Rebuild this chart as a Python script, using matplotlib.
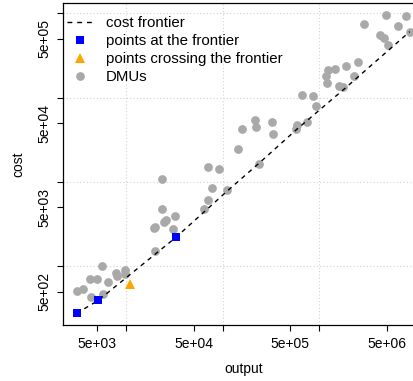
import numpy as np
import matplotlib
matplotlib.use('Agg')
import matplotlib.pyplot as plt
from matplotlib.ticker import NullLocator
from matplotlib.lines import Line2D

plt.rcParams['font.family'] = ['Liberation Sans', 'DejaVu Sans']

# DMUs (output, cost)
dmu_output = [3090, 3615, 4223, 4986, 5578, 6435, 4313, 5713, 7916, 8030,
              9835, 9835, 19720, 19580, 19950, 23410, 24730, 25630, 30860, 32360,
              63380, 70530, 23580, 69700, 92330, 77230, 112200, 142450, 157800, 218700,
              219800, 320200, 330300, 574000, 592200, 740500, 667100, 850500, 924500, 1160000,
              1216000, 1207000, 1460000, 1610000, 1772000, 1880000, 2305000, 2529000, 2884000, 4281000,
              4670000, 5163000, 4898000, 6522000, 7852000, 8617000, 239400]
dmu_cost = [512, 538, 701, 701, 1016, 655, 435, 466, 840, 772,
            911, 806, 1531, 2846, 2965, 4847, 3398, 3589, 2791, 3972,
            4742, 6062, 10900, 14970, 14250, 8551, 8030, 24400, 42820, 54600,
            45100, 50730, 37060, 42240, 47760, 50730, 107500, 104600, 80050, 183000,
            211500, 149100, 220400, 137400, 132600, 235300, 179100, 266900, 747000, 553200,
            509600, 421000, 949700, 707100, 921700, 605300, 16340]

# points on the frontier
front_pts_output = [3090, 5168, 32900]
front_pts_cost = [277, 395, 2208]

# points below the frontier
cross_output = [10870]
cross_cost = [625]

# frontier line, read at several points along the dashed curve
frontier_output = [3090, 5168, 32900, 112200, 239400, 574000, 1845000, 8617000]
frontier_cost = [277, 395, 2208, 7860, 16790, 41330, 129000, 605300]

xticks = [5e3, 1e4, 5e4, 1e5, 5e5, 1e6, 5e6]
xlabels = ['5e+03', '', '5e+04', '', '5e+05', '', '5e+06']
yticks = [5e2, 1e3, 5e3, 1e4, 5e4, 1e5, 5e5, 1e6]
ylabels = ['5e+02', '', '5e+03', '', '5e+04', '', '5e+05', '']

gray = '#A9A9A9'
fig = plt.figure(figsize=(4.14, 3.81), dpi=100)
ax = fig.add_axes([63/414, 1 - 325/381, 361/414, 322/381])
ax.set_xscale('log')
ax.set_yscale('log')
ax.set_xlim(2229, 1.2114e7)
ax.set_ylim(201.4, 1.325e6)

for v in [1e4, 1e5, 1e6]:
    ax.axvline(v, color='#D3D3D3', lw=0.8, ls=(0, (1, 2)), zorder=0)
for v in [1e3, 1e4, 1e5, 1e6]:
    ax.axhline(v, color='#D3D3D3', lw=0.8, ls=(0, (1, 2)), zorder=0)

ax.plot(dmu_output, dmu_cost, 'o', color=gray, ms=6.3, mew=0, zorder=2)
ax.plot(frontier_output, frontier_cost, color='black', lw=1.0, ls=(0, (3.2, 3.2)), zorder=3)
ax.plot(front_pts_output, front_pts_cost, 's', color='#0000FF', ms=5.3, mew=0, zorder=4)
ax.plot(cross_output, cross_cost, '^', color='#FFA500', ms=7, mew=0, zorder=4)

ax.set_xticks(xticks)
ax.set_xticklabels(xlabels)
ax.set_yticks(yticks)
ax.set_yticklabels(ylabels, rotation=90, va='center')
ax.xaxis.set_minor_locator(NullLocator())
ax.yaxis.set_minor_locator(NullLocator())
ax.tick_params(direction='out', length=4.3, width=0.8, labelsize=10, pad=4)

for s in ['left', 'bottom', 'top', 'right']:
    ax.spines[s].set_linewidth(0.9)

ax.set_xlabel('output', fontsize=10, labelpad=8)
ax.set_ylabel('cost', fontsize=10, labelpad=9)

handles = [
    Line2D([], [], color='black', lw=1.0, ls=(0, (3.5, 3.5))),
    Line2D([], [], marker='s', color='#0000FF', ls='none', ms=5.3, mew=0),
    Line2D([], [], marker='^', color='#FFA500', ls='none', ms=7, mew=0),
    Line2D([], [], marker='o', color=gray, ls='none', ms=6.3, mew=0),
]
labels = ['cost frontier', 'points at the frontier', 'points crossing the frontier', 'DMUs']
ax.legend(handles, labels, loc='upper left', bbox_to_anchor=(0.011, 0.960),
          frameon=False, fontsize=10.8, handlelength=1.75, handletextpad=0.85,
          labelspacing=0.28, borderaxespad=0, borderpad=0)

fig.savefig('out.png', dpi=100)
